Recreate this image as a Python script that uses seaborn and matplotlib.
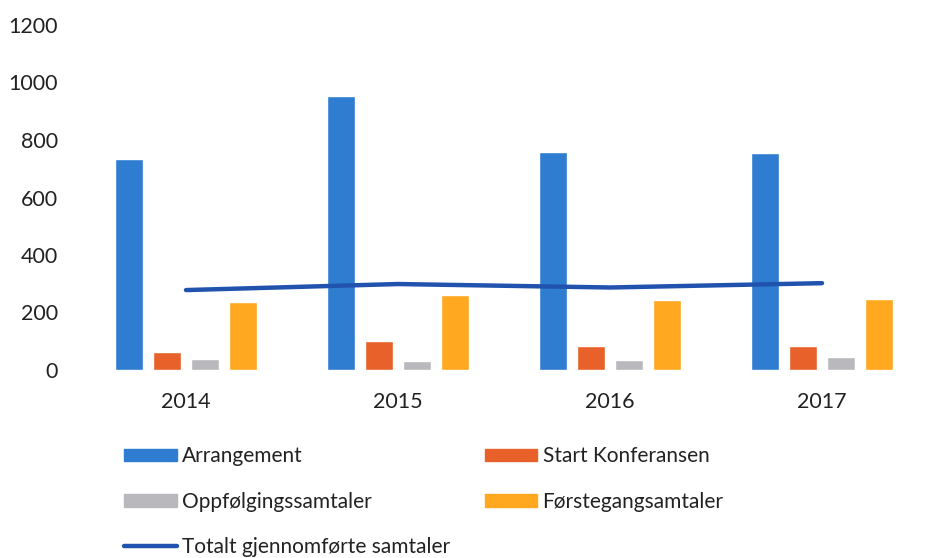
import numpy as np
import pandas as pd
import matplotlib
matplotlib.use("Agg")
import matplotlib.pyplot as plt
import seaborn as sns
from matplotlib.patches import Patch
from matplotlib.lines import Line2D

# data
years = ["2014", "2015", "2016", "2017"]
arrangement = [735, 952, 758, 755]
start_konferansen = [62, 101, 82, 82]
oppfolging = [38, 33, 35, 46]
forstegang = [235, 260, 243, 247]
totalt = [278, 299, 287, 302]

series_names = ["Arrangement", "Start Konferansen", "Oppfølgingssamtaler", "Førstegangsamtaler"]
line_name = "Totalt gjennomførte samtaler"
colors = ["#2F7DD0", "#E8602A", "#B9B9BD", "#FFA820"]
line_color = "#2153AE"

df = pd.DataFrame({"year": years,
                   series_names[0]: arrangement,
                   series_names[1]: start_konferansen,
                   series_names[2]: oppfolging,
                   series_names[3]: forstegang})
df_long = df.melt(id_vars="year", var_name="serie", value_name="antall")

sns.set_theme(style="white")
plt.rcParams["font.family"] = ["Lato", "DejaVu Sans"]

fig = plt.figure(figsize=(9.49, 5.58), dpi=100)
ax = fig.add_axes([80 / 949, 188 / 558, 848 / 949, 345 / 558])

sns.barplot(data=df_long, x="year", y="antall", hue="serie", hue_order=series_names,
            palette=colors, width=0.72, gap=0.26, saturation=1, ax=ax, legend=False)
sns.lineplot(x=np.arange(len(years)), y=totalt, color=line_color, linewidth=3.2, ax=ax)

ax.set_ylim(0, 1200)
ax.set_xlim(-0.5, len(years) - 0.5)
ax.set_yticks(range(0, 1201, 200))
ax.set_xlabel("")
ax.set_ylabel("")
ax.tick_params(axis="both", length=0, labelsize=15.5, colors="#222222")
ax.tick_params(axis="y", pad=16)
ax.tick_params(axis="x", pad=16)
for s in ax.spines.values():
    s.set_visible(False)

# legend, row-wise order in two columns
handles = [Patch(color=colors[0], label=series_names[0]),
           Patch(color=colors[2], label=series_names[2]),
           Line2D([0], [0], color=line_color, lw=3.2, label=line_name),
           Patch(color=colors[1], label=series_names[1]),
           Patch(color=colors[3], label=series_names[3])]
fig.legend(handles=handles, loc="upper left", bbox_to_anchor=(114 / 949, 1 - 436 / 558),
           ncol=2, frameon=False, fontsize=15, handlelength=2.5, handleheight=0.55,
           handletextpad=0.25, labelspacing=1.22, columnspacing=1.7, borderpad=0,
           labelcolor="#222222")

fig.savefig("out.png", dpi=100, facecolor="white")
